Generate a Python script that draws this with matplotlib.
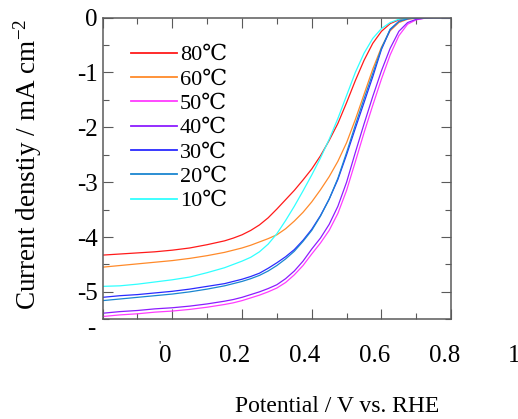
import numpy as np
import matplotlib
matplotlib.use('Agg')
import matplotlib.pyplot as plt
import matplotlib.transforms as mtransforms

plt.rcParams['font.family'] = ['Liberation Serif', 'DejaVu Serif', 'Noto Sans CJK JP']
plt.rcParams['axes.unicode_minus'] = False
plt.rcParams['mathtext.fontset'] = 'stix'

# Potential grid (V vs. RHE)
potential = [-0.2, -0.15, -0.1, -0.05, 0.0, 0.05, 0.1, 0.15, 0.175, 0.2, 0.225, 0.25, 0.275,
             0.3, 0.325, 0.35, 0.375, 0.4, 0.425, 0.45, 0.475, 0.5, 0.525, 0.55, 0.575,
             0.6, 0.625, 0.65, 0.675, 0.7, 0.725, 0.75, 0.8]

# Current density (mA cm-2)
j_80 = [-4.33, -4.31, -4.29, -4.27, -4.24, -4.20, -4.14, -4.07, -4.02, -3.96, -3.88, -3.78, -3.65,
        -3.49, -3.32, -3.15, -2.96, -2.76, -2.52, -2.24, -1.93, -1.55, -1.15, -0.78, -0.47,
        -0.25, -0.11, -0.04, -0.01, 0.0, 0.0, 0.0, 0.0]
j_60 = [-4.55, -4.52, -4.49, -4.46, -4.43, -4.39, -4.34, -4.28, -4.24, -4.20, -4.15, -4.09, -4.03,
        -3.96, -3.85, -3.71, -3.55, -3.36, -3.14, -2.90, -2.62, -2.28, -1.86, -1.40, -0.94,
        -0.54, -0.24, -0.09, -0.03, -0.01, 0.0, 0.0, 0.0]
j_50 = [-5.45, -5.42, -5.40, -5.37, -5.35, -5.32, -5.28, -5.23, -5.20, -5.16, -5.11, -5.06, -5.00,
        -4.93, -4.83, -4.69, -4.52, -4.31, -4.11, -3.88, -3.57, -3.15, -2.63, -2.10, -1.60,
        -1.12, -0.68, -0.33, -0.12, -0.04, -0.01, 0.0, 0.0]
j_40 = [-5.39, -5.36, -5.34, -5.31, -5.29, -5.26, -5.22, -5.17, -5.14, -5.10, -5.05, -5.00, -4.94,
        -4.87, -4.76, -4.62, -4.44, -4.22, -4.02, -3.77, -3.44, -3.00, -2.46, -1.94, -1.44,
        -0.97, -0.56, -0.25, -0.09, -0.03, -0.01, 0.0, 0.0]
j_30 = [-5.10, -5.07, -5.05, -5.02, -4.99, -4.95, -4.90, -4.85, -4.81, -4.77, -4.72, -4.66, -4.57,
        -4.47, -4.36, -4.23, -4.06, -3.86, -3.61, -3.31, -2.95, -2.50, -2.02, -1.55, -1.08,
        -0.58, -0.22, -0.07, -0.02, -0.01, 0.0, 0.0, 0.0]
j_20 = [-5.16, -5.13, -5.10, -5.07, -5.04, -5.00, -4.95, -4.89, -4.85, -4.81, -4.76, -4.70, -4.62,
        -4.52, -4.40, -4.26, -4.08, -3.88, -3.62, -3.31, -2.93, -2.46, -1.96, -1.48, -1.02,
        -0.56, -0.21, -0.07, -0.02, 0.0, 0.0, 0.0, 0.0]
j_10 = [-4.90, -4.89, -4.86, -4.82, -4.78, -4.73, -4.65, -4.56, -4.50, -4.44, -4.37, -4.27, -4.13,
        -3.94, -3.70, -3.44, -3.16, -2.87, -2.56, -2.22, -1.84, -1.42, -1.00, -0.65, -0.38,
        -0.20, -0.09, -0.03, -0.01, 0.0, 0.0, 0.0, 0.0]

labels = ['80℃', '60℃', '50℃', '40℃', '30℃', '20℃', '10℃']
colors = ['#ff1a1a', '#ff8a2a', '#ff3cff', '#8c1cff', '#2a2aff', '#1a86d0', '#30ffff']
series = [j_80, j_60, j_50, j_40, j_30, j_20, j_10]

xtick_vals = [0, 0.2, 0.4, 0.6, 0.8, 1.0]
xtick_text = ['0', '0.2', '0.4', '0.6', '0.8', '1']
ytick_vals = [0, -1, -2, -3, -4, -5]
ytick_text = ['0', '-1', '-2', '-3', '-4', '-5']

serif = ['Liberation Serif', 'DejaVu Serif', 'Noto Sans CJK JP']

fig = plt.figure(figsize=(5.18, 4.19), dpi=100)
ax = fig.add_axes([0.198, 0.238, 0.673, 0.72])

for j, c, lab in zip(series, colors, labels):
    ax.plot(potential, j, color=c, lw=0.9, label=lab)

ax.set_xlim(-0.2, 0.8)
ax.set_ylim(-5.5, 0)

ax.set_xticks(np.arange(-0.2, 0.81, 0.2))
ax.set_xticks(np.arange(-0.2, 0.81, 0.1), minor=True)
ax.set_yticks(ytick_vals)
ax.set_yticklabels(ytick_text, fontfamily=serif)
ax.set_yticks(np.arange(-5.5, 0.01, 0.5), minor=True)

spine_col = '#5a5a5a'
for s in ax.spines.values():
    s.set_color(spine_col)
    s.set_linewidth(1.1)
ax.tick_params(which='both', direction='in', top=True, right=True, color=spine_col,
               width=0.8, labelbottom=False)
ax.tick_params(which='major', length=7.5)
ax.tick_params(which='minor', length=4)
ax.tick_params(axis='y', labelsize=18, pad=3.4)

# x tick labels sit a bit left of their ticks and well below the axis
trans = mtransforms.offset_copy(ax.get_xaxis_transform(), fig=fig, x=-7, y=0, units='dots')
for v, t in zip(xtick_vals, xtick_text):
    ax.text(v, -0.122, t, transform=trans, ha='center', va='center', fontsize=18,
            fontfamily=serif, clip_on=False)

# stray marks in the original
ax.text(-0.022, -0.032, '-', transform=ax.transAxes, ha='right', va='center', fontsize=18)
ax.text(-0.037, -0.088, "'", transform=ax.get_xaxis_transform(), ha='center', va='center', fontsize=9)

ax.set_xlabel('Potential / V vs. RHE', fontsize=17)
ax.xaxis.set_label_coords(0.673, -0.29)
ax.xaxis.label.set_va('center')
ax.set_ylabel('Current denstiy / mA cm$^{\\mathregular{-2}}$', fontsize=19.5)
ax.yaxis.set_label_coords(-0.214, 0.515)
ax.yaxis.label.set_va('center')

leg = ax.legend(loc='upper left', bbox_to_anchor=(0.081, 0.91), frameon=False, fontsize=16,
                handlelength=2.1, handletextpad=0.1, labelspacing=0.17, borderpad=0,
                borderaxespad=0)
for line in leg.get_lines():
    line.set_linewidth(1.3)

fig.savefig('out.png', dpi=100)
